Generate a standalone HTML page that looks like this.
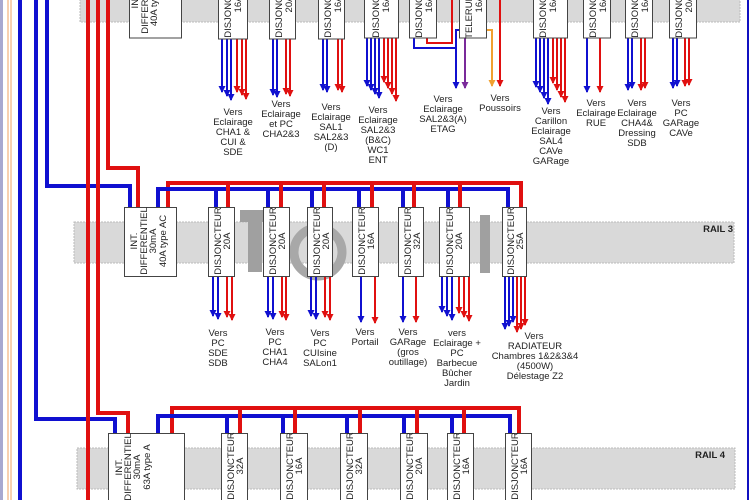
<!DOCTYPE html>
<html><head><meta charset="utf-8"><style>
html,body{margin:0;padding:0;background:#fff;}
svg{display:block;}
text{font-family:"Liberation Sans",Arial,sans-serif;fill:#222;}
</style></head><body>
<svg width="750" height="500" viewBox="0 0 750 500" xmlns="http://www.w3.org/2000/svg">
<defs>
<marker id="ab" markerUnits="userSpaceOnUse" markerWidth="7" markerHeight="7" refX="3.5" refY="6" orient="0"><path d="M0,0 L7,0 L3.5,7 z" fill="#1010d0"/></marker>
<marker id="ar" markerUnits="userSpaceOnUse" markerWidth="7" markerHeight="7" refX="3.5" refY="6" orient="0"><path d="M0,0 L7,0 L3.5,7 z" fill="#e01010"/></marker>
<marker id="ap" markerUnits="userSpaceOnUse" markerWidth="7" markerHeight="7" refX="3.5" refY="6" orient="0"><path d="M0,0 L7,0 L3.5,7 z" fill="#7a2a9a"/></marker>
<marker id="ao" markerUnits="userSpaceOnUse" markerWidth="7" markerHeight="7" refX="3.5" refY="6" orient="0"><path d="M0,0 L7,0 L3.5,7 z" fill="#f0a030"/></marker>
</defs>

<!-- rails -->
<rect x="80" y="-5" width="660" height="27" fill="#d9d9d9" stroke="#bbb" stroke-dasharray="2,1"/>
<rect x="74" y="222" width="660" height="41" fill="#d9d9d9" stroke="#bbb" stroke-dasharray="2,1"/>
<rect x="77" y="448" width="658" height="41" fill="#d9d9d9" stroke="#bbb" stroke-dasharray="2,1"/>
<text x="733" y="232" font-size="9.5" font-weight="bold" text-anchor="end">RAIL 3</text>
<text x="725" y="458" font-size="9.5" font-weight="bold" text-anchor="end">RAIL 4</text>

<!-- watermark -->
<g fill="#a0a0a0">
<rect x="248" y="210" width="14" height="62"/>
<rect x="240" y="210" width="40" height="12"/>
<rect x="480" y="215" width="10" height="58"/>
</g>
<circle cx="318" cy="252" r="24" fill="none" stroke="#a8a8a8" stroke-width="9"/>

<!-- left thin lines -->
<line x1="1.5" y1="0" x2="1.5" y2="500" stroke="#a8a8d0" stroke-width="3"/>
<line x1="8" y1="0" x2="8" y2="500" stroke="#f0a060" stroke-width="1"/>
<line x1="11" y1="0" x2="11" y2="500" stroke="#f0a060" stroke-width="1"/>
<line x1="748" y1="0" x2="748" y2="500" stroke="#1010c0" stroke-width="2"/>

<!-- main feeders -->
<g fill="none" stroke-width="4" stroke-linejoin="miter">
<line x1="20" y1="0" x2="20" y2="500" stroke="#1010d0"/>
<polyline points="36,0 36,419 115,419 115,433" stroke="#1010d0"/>
<polyline points="47,0 47,186 130,186 130,207" stroke="#1010d0"/>
<line x1="88" y1="0" x2="88" y2="500" stroke="#e01010"/>
<polyline points="98,0 98,413 128,413 128,433" stroke="#e01010"/>
<polyline points="108,0 108,168 138,168 138,207" stroke="#e01010"/>
<!-- rail 3 bus -->
<polyline points="168,207 168,183 521,183 521,207" stroke="#e01010"/>
<polyline points="158,207 158,189 508,189 508,207" stroke="#1010d0"/>
<line x1="216" y1="189" x2="216" y2="207" stroke="#1010d0"/><line x1="228" y1="183" x2="228" y2="207" stroke="#e01010"/>
<line x1="268" y1="189" x2="268" y2="207" stroke="#1010d0"/><line x1="281" y1="183" x2="281" y2="207" stroke="#e01010"/>
<line x1="312" y1="189" x2="312" y2="207" stroke="#1010d0"/><line x1="324" y1="183" x2="324" y2="207" stroke="#e01010"/>
<line x1="359" y1="189" x2="359" y2="207" stroke="#1010d0"/><line x1="372" y1="183" x2="372" y2="207" stroke="#e01010"/>
<line x1="403" y1="189" x2="403" y2="207" stroke="#1010d0"/><line x1="414" y1="183" x2="414" y2="207" stroke="#e01010"/>
<line x1="448" y1="189" x2="448" y2="207" stroke="#1010d0"/><line x1="460" y1="183" x2="460" y2="207" stroke="#e01010"/>
<!-- rail 4 bus -->
<polyline points="172,433 172,408 519,408 519,433" stroke="#e01010"/>
<polyline points="158,433 158,416 510,416 510,433" stroke="#1010d0"/>
<line x1="227" y1="416" x2="227" y2="433" stroke="#1010d0"/><line x1="240" y1="408" x2="240" y2="433" stroke="#e01010"/>
<line x1="283" y1="416" x2="283" y2="433" stroke="#1010d0"/><line x1="295" y1="408" x2="295" y2="433" stroke="#e01010"/>
<line x1="347" y1="416" x2="347" y2="433" stroke="#1010d0"/><line x1="360" y1="408" x2="360" y2="433" stroke="#e01010"/>
<line x1="404" y1="416" x2="404" y2="433" stroke="#1010d0"/><line x1="417" y1="408" x2="417" y2="433" stroke="#e01010"/>
<line x1="452" y1="416" x2="452" y2="433" stroke="#1010d0"/><line x1="464" y1="408" x2="464" y2="433" stroke="#e01010"/>
</g>

<!-- top row special wiring -->
<g fill="none" stroke-width="2">
<polyline points="414,38 414,48 456,48 456,30 459,30" stroke="#1010d0"/>
<polyline points="456,48 456,88" stroke="#1010d0" marker-end="url(#ab)"/>
<polyline points="427,38 427,43 452,43 452,0" stroke="#e01010"/>
<line x1="465" y1="38" x2="465" y2="88" stroke="#7a2a9a" marker-end="url(#ap)"/>
<polyline points="486,30 492,30 492,86" stroke="#f0a030" marker-end="url(#ao)"/>
<line x1="500" y1="0" x2="500" y2="86" stroke="#e01010" marker-end="url(#ar)"/>
</g>

<!-- output arrows: blue -->
<g stroke="#1010d0" stroke-width="2" marker-end="url(#ab)">
<line x1="222" y1="39" x2="222" y2="92"/><line x1="227" y1="39" x2="227" y2="96"/><line x1="231" y1="39" x2="231" y2="100"/>
<line x1="273" y1="39" x2="273" y2="95"/><line x1="277" y1="39" x2="277" y2="97"/>
<line x1="323" y1="39" x2="323" y2="90"/><line x1="327" y1="39" x2="327" y2="92"/>
<line x1="367" y1="38" x2="367" y2="86"/><line x1="371" y1="38" x2="371" y2="90"/><line x1="375" y1="38" x2="375" y2="94"/><line x1="379" y1="38" x2="379" y2="98"/>
<line x1="536" y1="38" x2="536" y2="87"/><line x1="540" y1="38" x2="540" y2="92"/><line x1="544" y1="38" x2="544" y2="98"/><line x1="548" y1="38" x2="548" y2="104"/>
<line x1="587" y1="38" x2="587" y2="92"/>
<line x1="628" y1="38" x2="628" y2="90"/><line x1="632" y1="38" x2="632" y2="88"/>
<line x1="673" y1="38" x2="673" y2="88"/><line x1="677" y1="38" x2="677" y2="86"/>
<!-- rail3 -->
<line x1="213" y1="276" x2="213" y2="316"/><line x1="218" y1="276" x2="218" y2="319"/>
<line x1="268" y1="276" x2="268" y2="317"/><line x1="273" y1="276" x2="273" y2="319"/>
<line x1="311" y1="276" x2="311" y2="316"/><line x1="316" y1="276" x2="316" y2="319"/>
<line x1="361" y1="276" x2="361" y2="322"/>
<line x1="403" y1="276" x2="403" y2="322"/>
<line x1="442" y1="276" x2="442" y2="312"/><line x1="447" y1="276" x2="447" y2="316"/><line x1="452" y1="276" x2="452" y2="320"/>
<line x1="505" y1="276" x2="505" y2="329"/><line x1="509" y1="276" x2="509" y2="326"/><line x1="513" y1="276" x2="513" y2="322"/>
</g>
<!-- output arrows: red -->
<g stroke="#e01010" stroke-width="2" marker-end="url(#ar)">
<line x1="237" y1="39" x2="237" y2="92"/><line x1="242" y1="39" x2="242" y2="95"/><line x1="246" y1="39" x2="246" y2="99"/>
<line x1="286" y1="39" x2="286" y2="94"/><line x1="290" y1="39" x2="290" y2="96"/>
<line x1="338" y1="39" x2="338" y2="90"/><line x1="342" y1="39" x2="342" y2="92"/>
<line x1="384" y1="38" x2="384" y2="82"/><line x1="388" y1="38" x2="388" y2="88"/><line x1="392" y1="38" x2="392" y2="94"/><line x1="396" y1="38" x2="396" y2="101"/>
<line x1="553" y1="38" x2="553" y2="83"/><line x1="557" y1="38" x2="557" y2="90"/><line x1="561" y1="38" x2="561" y2="97"/><line x1="565" y1="38" x2="565" y2="102"/>
<line x1="600" y1="38" x2="600" y2="92"/>
<line x1="641" y1="38" x2="641" y2="90"/><line x1="645" y1="38" x2="645" y2="88"/>
<line x1="685" y1="38" x2="685" y2="86"/><line x1="689" y1="38" x2="689" y2="85"/>
<!-- rail3 -->
<line x1="227" y1="276" x2="227" y2="317"/><line x1="232" y1="276" x2="232" y2="320"/>
<line x1="282" y1="276" x2="282" y2="317"/><line x1="286" y1="276" x2="286" y2="320"/>
<line x1="325" y1="276" x2="325" y2="317"/><line x1="330" y1="276" x2="330" y2="320"/>
<line x1="375" y1="276" x2="375" y2="323"/>
<line x1="416" y1="276" x2="416" y2="322"/>
<line x1="459" y1="276" x2="459" y2="313"/><line x1="464" y1="276" x2="464" y2="317"/><line x1="469" y1="276" x2="469" y2="321"/>
<line x1="517" y1="276" x2="517" y2="332"/><line x1="521" y1="276" x2="521" y2="329"/><line x1="525" y1="276" x2="525" y2="325"/>
</g>

<!-- boxes -->
<g fill="#fff" stroke="#444" stroke-width="1">
<rect x="129.5" y="-40" width="52" height="78"/>
<rect x="218.5" y="-40" width="29" height="79"/>
<rect x="269.5" y="-40" width="26" height="79"/>
<rect x="318.5" y="-40" width="26" height="79"/>
<rect x="364.5" y="-40" width="34" height="78"/>
<rect x="409.5" y="-40" width="27" height="78"/>
<rect x="459.5" y="-40" width="27" height="78"/>
<rect x="533.5" y="-40" width="34" height="78"/>
<rect x="583.5" y="-40" width="27" height="78"/>
<rect x="625.5" y="-40" width="27" height="78"/>
<rect x="669.5" y="-40" width="27" height="78"/>

<rect x="124.5" y="207.5" width="52" height="69"/>
<rect x="208.5" y="207.5" width="26" height="69"/>
<rect x="263.5" y="207.5" width="26" height="69"/>
<rect x="307.5" y="207.5" width="25" height="69"/>
<rect x="352.5" y="207.5" width="26" height="69"/>
<rect x="398.5" y="207.5" width="25" height="69"/>
<rect x="439.5" y="207.5" width="30" height="69"/>
<rect x="502.5" y="207.5" width="24" height="69"/>

<rect x="108.5" y="433.5" width="76" height="80"/>
<rect x="221.5" y="433.5" width="26" height="80"/>
<rect x="280.5" y="433.5" width="27" height="80"/>
<rect x="340.5" y="433.5" width="27" height="80"/>
<rect x="400.5" y="433.5" width="27" height="80"/>
<rect x="447.5" y="433.5" width="26" height="80"/>
<rect x="505.5" y="433.5" width="26" height="80"/>
</g>

<!-- box text -->
<g font-size="9.5" text-anchor="middle">
<!-- top row -->
<text transform="translate(0,0)"></text>
<g transform="translate(0,0)">
<text transform="translate(138,0) rotate(-90)">INT.</text>
<text transform="translate(148,0) rotate(-90)">DIFFERENTIEL</text>
<text transform="translate(157,0) rotate(-90)">40A type AC</text>
<text transform="translate(231,4) rotate(-90)">DISJONCTEUR</text><text transform="translate(241,4) rotate(-90)">16A</text>
<text transform="translate(282,4) rotate(-90)">DISJONCTEUR</text><text transform="translate(292,4) rotate(-90)">20A</text>
<text transform="translate(331,4) rotate(-90)">DISJONCTEUR</text><text transform="translate(341,4) rotate(-90)">16A</text>
<text transform="translate(379,4) rotate(-90)">DISJONCTEUR</text><text transform="translate(389,4) rotate(-90)">16A</text>
<text transform="translate(422,4) rotate(-90)">DISJONCTEUR</text><text transform="translate(432,4) rotate(-90)">16A</text>
<text transform="translate(472,4) rotate(-90)">TELERUPTEUR</text><text transform="translate(482,4) rotate(-90)">16A</text>
<text transform="translate(546,4) rotate(-90)">DISJONCTEUR</text><text transform="translate(556,4) rotate(-90)">16A</text>
<text transform="translate(596,4) rotate(-90)">DISJONCTEUR</text><text transform="translate(606,4) rotate(-90)">16A</text>
<text transform="translate(638,4) rotate(-90)">DISJONCTEUR</text><text transform="translate(648,4) rotate(-90)">16A</text>
<text transform="translate(682,4) rotate(-90)">DISJONCTEUR</text><text transform="translate(692,4) rotate(-90)">20A</text>
</g>
<!-- rail 3 -->
<text transform="translate(137,241) rotate(-90)">INT.</text>
<text transform="translate(147,241) rotate(-90)">DIFFERENTIEL</text>
<text transform="translate(156,241) rotate(-90)">30mA</text>
<text transform="translate(166,241) rotate(-90)">40A type AC</text>
<text transform="translate(221,241) rotate(-90)">DISJONCTEUR</text><text transform="translate(230,241) rotate(-90)">20A</text>
<text transform="translate(276,241) rotate(-90)">DISJONCTEUR</text><text transform="translate(285,241) rotate(-90)">20A</text>
<text transform="translate(320,241) rotate(-90)">DISJONCTEUR</text><text transform="translate(329,241) rotate(-90)">20A</text>
<text transform="translate(365,241) rotate(-90)">DISJONCTEUR</text><text transform="translate(374,241) rotate(-90)">16A</text>
<text transform="translate(411,241) rotate(-90)">DISJONCTEUR</text><text transform="translate(420,241) rotate(-90)">32A</text>
<text transform="translate(453,241) rotate(-90)">DISJONCTEUR</text><text transform="translate(462,241) rotate(-90)">20A</text>
<text transform="translate(514,241) rotate(-90)">DISJONCTEUR</text><text transform="translate(523,241) rotate(-90)">25A</text>
<!-- rail 4 -->
<text transform="translate(122,467) rotate(-90)">INT.</text>
<text transform="translate(131,467) rotate(-90)">DIFFERENTIEL</text>
<text transform="translate(140,467) rotate(-90)">30mA</text>
<text transform="translate(150,467) rotate(-90)">63A type A</text>
<text transform="translate(234,466) rotate(-90)">DISJONCTEUR</text><text transform="translate(243,466) rotate(-90)">32A</text>
<text transform="translate(293,466) rotate(-90)">DISJONCTEUR</text><text transform="translate(302,466) rotate(-90)">16A</text>
<text transform="translate(353,466) rotate(-90)">DISJONCTEUR</text><text transform="translate(362,466) rotate(-90)">32A</text>
<text transform="translate(413,466) rotate(-90)">DISJONCTEUR</text><text transform="translate(422,466) rotate(-90)">20A</text>
<text transform="translate(460,466) rotate(-90)">DISJONCTEUR</text><text transform="translate(469,466) rotate(-90)">16A</text>
<text transform="translate(518,466) rotate(-90)">DISJONCTEUR</text><text transform="translate(527,466) rotate(-90)">16A</text>
</g>

<!-- labels -->
<g font-size="9.5" text-anchor="middle">
<text x="233" y="115"><tspan x="233">Vers</tspan><tspan x="233" dy="10">Eclairage</tspan><tspan x="233" dy="10">CHA1 &amp;</tspan><tspan x="233" dy="10">CUI &amp;</tspan><tspan x="233" dy="10">SDE</tspan></text>
<text y="107"><tspan x="281">Vers</tspan><tspan x="281" dy="10">Eclairage</tspan><tspan x="281" dy="10">et PC</tspan><tspan x="281" dy="10">CHA2&amp;3</tspan></text>
<text y="110"><tspan x="331">Vers</tspan><tspan x="331" dy="10">Eclairage</tspan><tspan x="331" dy="10">SAL1</tspan><tspan x="331" dy="10">SAL2&amp;3</tspan><tspan x="331" dy="10">(D)</tspan></text>
<text y="113"><tspan x="378">Vers</tspan><tspan x="378" dy="10">Eclairage</tspan><tspan x="378" dy="10">SAL2&amp;3</tspan><tspan x="378" dy="10">(B&amp;C)</tspan><tspan x="378" dy="10">WC1</tspan><tspan x="378" dy="10">ENT</tspan></text>
<text y="102"><tspan x="443">Vers</tspan><tspan x="443" dy="10">Eclairage</tspan><tspan x="443" dy="10">SAL2&amp;3(A)</tspan><tspan x="443" dy="10">ETAG</tspan></text>
<text y="101"><tspan x="500">Vers</tspan><tspan x="500" dy="10">Poussoirs</tspan></text>
<text y="114"><tspan x="551">Vers</tspan><tspan x="551" dy="10">Carillon</tspan><tspan x="551" dy="10">Eclairage</tspan><tspan x="551" dy="10">SAL4</tspan><tspan x="551" dy="10">CAVe</tspan><tspan x="551" dy="10">GARage</tspan></text>
<text y="106"><tspan x="596">Vers</tspan><tspan x="596" dy="10">Eclairage</tspan><tspan x="596" dy="10">RUE</tspan></text>
<text y="106"><tspan x="637">Vers</tspan><tspan x="637" dy="10">Eclairage</tspan><tspan x="637" dy="10">CHA4&amp;</tspan><tspan x="637" dy="10">Dressing</tspan><tspan x="637" dy="10">SDB</tspan></text>
<text y="106"><tspan x="681">Vers</tspan><tspan x="681" dy="10">PC</tspan><tspan x="681" dy="10">GARage</tspan><tspan x="681" dy="10">CAVe</tspan></text>

<text y="336"><tspan x="218">Vers</tspan><tspan x="218" dy="10">PC</tspan><tspan x="218" dy="10">SDE</tspan><tspan x="218" dy="10">SDB</tspan></text>
<text y="335"><tspan x="275">Vers</tspan><tspan x="275" dy="10">PC</tspan><tspan x="275" dy="10">CHA1</tspan><tspan x="275" dy="10">CHA4</tspan></text>
<text y="336"><tspan x="320">Vers</tspan><tspan x="320" dy="10">PC</tspan><tspan x="320" dy="10">CUIsine</tspan><tspan x="320" dy="10">SALon1</tspan></text>
<text y="335"><tspan x="365">Vers</tspan><tspan x="365" dy="10">Portail</tspan></text>
<text y="335"><tspan x="408">Vers</tspan><tspan x="408" dy="10">GARage</tspan><tspan x="408" dy="10">(gros</tspan><tspan x="408" dy="10">outillage)</tspan></text>
<text y="336"><tspan x="457">vers</tspan><tspan x="457" dy="10">Eclairage +</tspan><tspan x="457" dy="10">PC</tspan><tspan x="457" dy="10">Barbecue</tspan><tspan x="457" dy="10">Bûcher</tspan><tspan x="457" dy="10">Jardin</tspan></text>
<text y="339"><tspan x="534">Vers</tspan><tspan x="535" dy="10">RADIATEUR</tspan><tspan x="535" dy="10">Chambres 1&amp;2&amp;3&amp;4</tspan><tspan x="535" dy="10">(4500W)</tspan><tspan x="535" dy="10">Délestage Z2</tspan></text>
</g>
</svg>
</body></html>
